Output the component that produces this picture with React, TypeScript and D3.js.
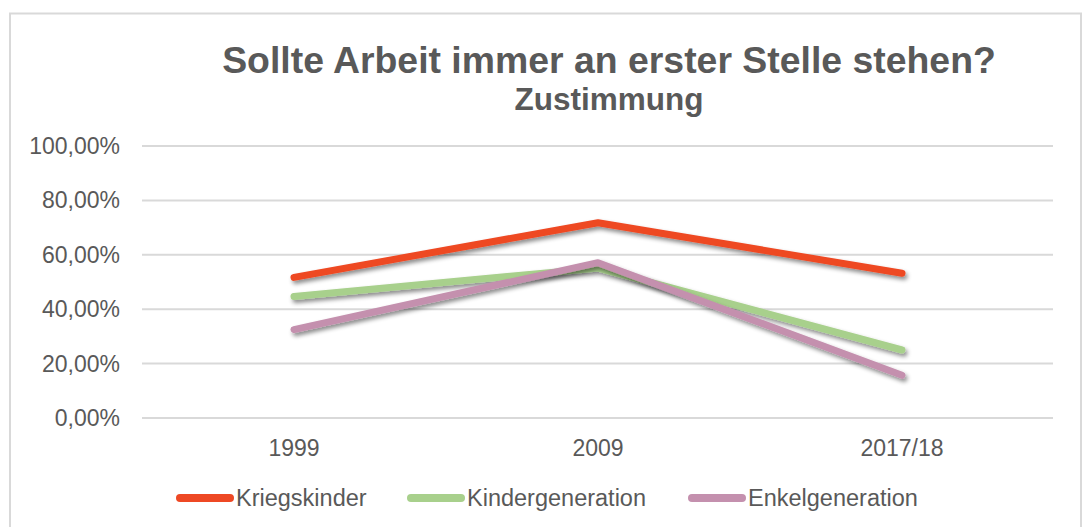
import React from "react";
import * as d3 from "d3";

const categories = ["1999", "2009", "2017/18"];
const seriesNames = ["Kriegskinder", "Kindergeneration", "Enkelgeneration"];
const kriegskinder = [0.517, 0.718, 0.532];
const kindergeneration = [0.447, 0.551, 0.25];
const enkelgeneration = [0.325, 0.571, 0.157];
const yTicks = [0, 0.2, 0.4, 0.6, 0.8, 1.0];
const colors = ["#EE4824", "#A8D08C", "#C490AE"];

const W = 1083;
const H = 527;

export default function App() {
  const x = d3.scalePoint<string>().domain(categories).range([142, 1054]).padding(0.5);
  const y = d3.scaleLinear().domain([0, 1]).range([418, 146]);
  const line = d3
    .line<number>()
    .x((_, i) => x(categories[i]) as number)
    .y((d) => y(d));
  const data = [kriegskinder, kindergeneration, enkelgeneration];
  const fmt = (v: number) => d3.format(".2f")(v * 100).replace(".", ",") + "%";
  const font = "'Liberation Sans', Arial, sans-serif";
  const textColor = "#595959";
  const legendX = [180, 411, 692];

  return (
    <svg
      width={W}
      height={H}
      style={{ position: "absolute", left: 0, top: 0, background: "#fff" }}
      fontFamily={font}
    >
      <defs>
        <filter id="shadow" x="-10%" y="-30%" width="120%" height="160%">
          <feDropShadow dx="2" dy="3" stdDeviation="2" floodColor="#000" floodOpacity="0.45" />
        </filter>
      </defs>
      <rect x={10} y={13.5} width={1071} height={530} fill="#fff" stroke="#D9D9D9" strokeWidth={2} />
      <text x={609} y={73} textAnchor="middle" fontSize={37.4} fontWeight="bold" fill={textColor}>
        Sollte Arbeit immer an erster Stelle stehen?
      </text>
      <text x={609} y={110} textAnchor="middle" fontSize={31.5} fontWeight="bold" fill={textColor}>
        Zustimmung
      </text>
      {yTicks.map((t) => (
        <g key={t}>
          <line x1={142} x2={1053} y1={y(t)} y2={y(t)} stroke="#D9D9D9" strokeWidth={2} />
          <text x={120} y={y(t) + 8} textAnchor="end" fontSize={23} fill={textColor}>
            {fmt(t)}
          </text>
        </g>
      ))}
      {categories.map((c) => (
        <text key={c} x={x(c)} y={456} textAnchor="middle" fontSize={23} fill={textColor}>
          {c}
        </text>
      ))}
      {data.map((d, i) => (
        <path
          key={seriesNames[i]}
          d={line(d) as string}
          fill="none"
          stroke={colors[i]}
          strokeWidth={7}
          strokeLinecap="round"
          strokeLinejoin="round"
          filter="url(#shadow)"
        />
      ))}
      {seriesNames.map((s, i) => (
        <g key={s} transform={`translate(${legendX[i]},498)`}>
          <line x1={0} x2={50} y1={0} y2={0} stroke={colors[i]} strokeWidth={8} strokeLinecap="round" />
          <text x={56} y={8} fontSize={23.5} fill={textColor}>
            {s}
          </text>
        </g>
      ))}
    </svg>
  );
}
